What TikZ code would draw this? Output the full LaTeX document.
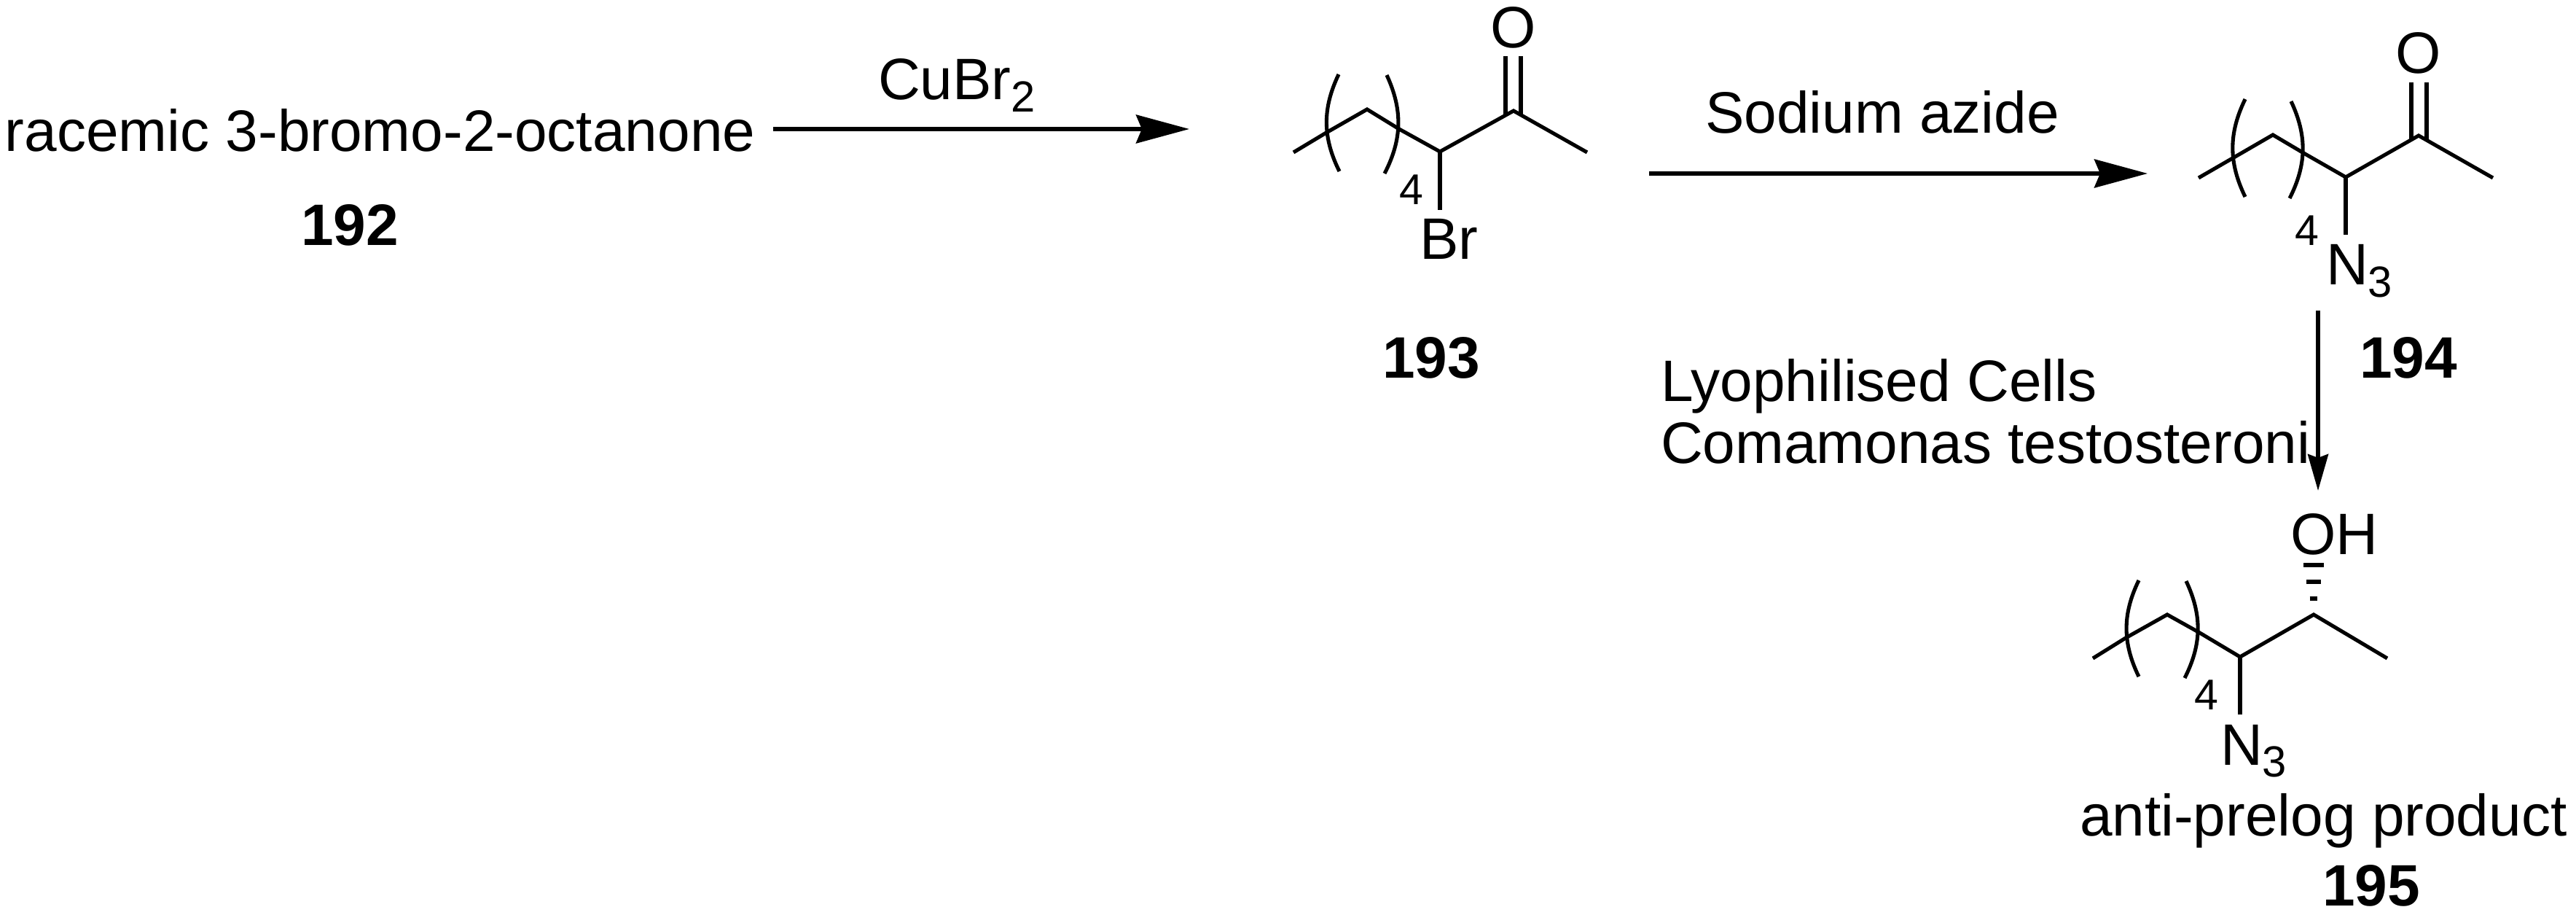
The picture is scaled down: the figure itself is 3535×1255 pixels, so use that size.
\documentclass[tikz,border=0pt]{standalone}
\usepackage{fontspec}
\setmainfont{Liberation Sans}
\usetikzlibrary{arrows.meta}
\newcommand{\subnum}[1]{\raisebox{-4.6pt}{\fontsize{17}{20}\selectfont #1}}
\tikzset{
    bond/.style={line width=1.45pt},
    bigarrow/.style={line width=1.45pt,-{Stealth[length=0.73cm,width=0.39cm,inset=0.08cm]}},
    smallarrow/.style={line width=1.45pt,-{Stealth[length=0.5cm,width=0.28cm,inset=0.05cm]}},
    txt/.style={inner sep=0pt,outer sep=0pt,anchor=base west,font=\fontsize{22.8}{27}\selectfont},
    atom/.style={inner sep=0pt,outer sep=0pt,anchor=base,font=\fontsize{22.8}{27}\selectfont},
    repeatnum/.style={inner sep=0pt,outer sep=0pt,anchor=base,font=\fontsize{16.8}{20}\selectfont},
    compound/.style={inner sep=0pt,outer sep=0pt,anchor=base,font=\fontsize{22.8}{27}\selectfont\bfseries}
}
\begin{document}
\begin{tikzpicture}[x=0.01cm,y=-0.01cm]
    \useasboundingbox (0,0) rectangle (3535,1255);

    % left side
    \node[txt] (racemic) at (7,208) {racemic 3-bromo-2-octanone};
    \node[compound] (n192) at (480,337) {192};
    \node[txt] (cubr) at (1205,137) {CuBr\subnum{2}};
    \coordinate (arrAs) at (1061,177);
    \coordinate (arrAe) at (1632,177);
    \draw[bigarrow] (arrAs) -- (arrAe);

    % bromo ketone
    \foreach \n/\x/\y in {ba/1775/209,bb/1820/182,bc/1876/150,bd/1920/177,be/1976/208,bf/2077/152,bg/2178/209,
        bh/1976/288,bi/2066/158,bj/2066/77,bk/2087/158,bl/2087/77,
        bm/1837/102,bn/1838/235,bo/1903/103,bp/1900/238}{
        \coordinate (\n) at (\x,\y);
    }
    \draw[bond] (ba) -- (bb) -- (bc) -- (bd) -- (be) -- (bf) -- (bg);
    \draw[bond] (be) -- (bh);
    \draw[bond] (bi) -- (bj);
    \draw[bond] (bk) -- (bl);
    \draw[bond] (bm) to[bend right=26] (bn);
    \draw[bond] (bo) to[bend left=26] (bp);
    \node[atom] (oxa) at (2077,66) {O};
    \node[txt] (brom) at (1948,356) {Br};
    \node[repeatnum] (foura) at (1937,281) {4};
    \node[compound] (n193) at (1964,519) {193};

    \node[txt] (azide) at (2340,183) {Sodium azide};
    \coordinate (arrBs) at (2263,238);
    \coordinate (arrBe) at (2947,238);
    \draw[bigarrow] (arrBs) -- (arrBe);

    % azido ketone
    \foreach \n/\x/\y in {ca/3017/244,cb/3062/218,cc/3119/185,cd/3163/211,ce/3219/243,cf/3319/186,cg/3421/244,
        ch/3219/322,ci/3309/192,cj/3309/113,ck/3330/192,cl/3330/113,
        cm/3081/136,cn/3081/270,co/3144/139,cp/3142/272}{
        \coordinate (\n) at (\x,\y);
    }
    \draw[bond] (ca) -- (cb) -- (cc) -- (cd) -- (ce) -- (cf) -- (cg);
    \draw[bond] (ce) -- (ch);
    \draw[bond] (ci) -- (cj);
    \draw[bond] (ck) -- (cl);
    \draw[bond] (cm) to[bend right=26] (cn);
    \draw[bond] (co) to[bend left=26] (cp);
    \node[atom] (oxb) at (3319,101) {O};
    \node[txt] (azb) at (3192,391) {N\subnum{3}};
    \node[repeatnum] (fourb) at (3166,337) {4};
    \node[compound] (n194) at (3305,519) {194};

    \node[txt] (cells) at (2279,551) {Lyophilised Cells};
    \node[txt] (coma) at (2279,636) {Comamonas testosteroni};
    \coordinate (arrCs) at (3181,426);
    \coordinate (arrCe) at (3181,673);
    \draw[smallarrow] (arrCs) -- (arrCe);

    % alcohol
    \foreach \n/\x/\y in {da/2872/903,db/2917/875,dc/2974/843,dd/3017/867,de/3074/901,df/3175/843,dg/3276/903,
        dh/3074/980,dm/2935/796,dn/2935/928,do/3000/797,dp/2998/930}{
        \coordinate (\n) at (\x,\y);
    }
    \draw[bond] (da) -- (db) -- (dc) -- (dd) -- (de) -- (df) -- (dg);
    \draw[bond] (de) -- (dh);
    \draw[bond] (dm) to[bend right=26] (dn);
    \draw[bond] (do) to[bend left=26] (dp);
    \foreach \hy/\hw in {775/14,798/9.8,821/5.4}{
        \draw[bond] (3175-\hw,\hy) -- (3175+\hw,\hy);
    }
    \node[txt] (hydroxy) at (3143,760) {OH};
    \node[txt] (azc) at (3047,1049) {N\subnum{3}};
    \node[repeatnum] (fourc) at (3028,973) {4};
    \node[txt] (anti) at (2854,1146) {anti-prelog product};
    \node[compound] (n195) at (3254,1242) {195};
\end{tikzpicture}
\end{document}
